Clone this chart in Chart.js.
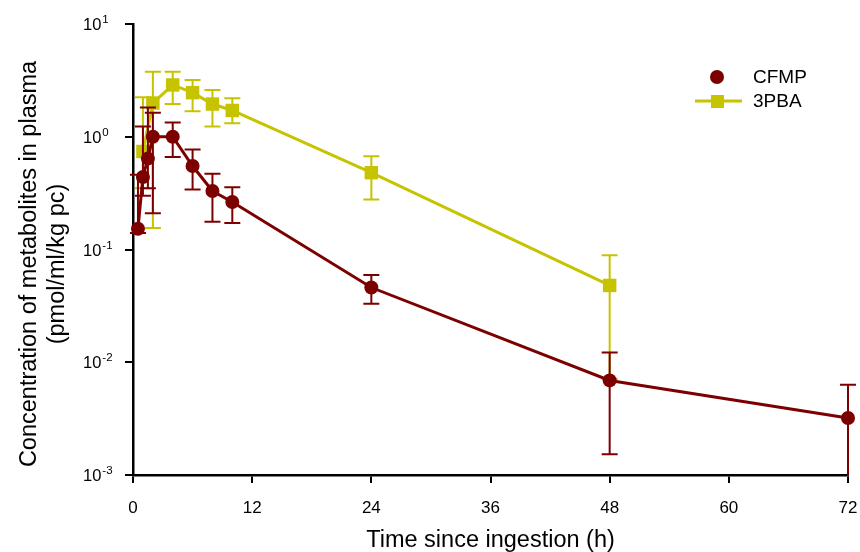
<!DOCTYPE html>
<html>
<head>
<meta charset="utf-8">
<script src="https://cdn.jsdelivr.net/npm/chart.js@4"></script>
<style>
  html, body { margin:0; padding:0; background:#fff; }
  #wrap { width:860px; height:552px; position:relative; }
</style>
</head>
<body>
<div id="wrap"><canvas id="pkChart" width="860" height="552"></canvas></div>
<script>
// plasma kinetics, CFMP vs 3PBA (log scale)
var FONT = '"Liberation Sans", Arial, sans-serif';
var RED = '#7c0000';
var YEL = '#c6c300';

var cfmpTime  = [0.5, 1, 1.5, 2, 4, 6, 8, 10, 24, 48, 72];
var cfmpMean  = [0.153, 0.44, 0.64, 1.0, 1.0, 0.55, 0.33, 0.264, 0.046, 0.0069, 0.0032];
var cfmpUpper = [0.46, 1.23, 1.82, 1.63, 1.34, 0.77, 0.47, 0.356, 0.0593, 0.0122, 0.0063];
var cfmpLower = [0.14, 0.30, 0.35, 0.21, 0.66, 0.34, 0.176, 0.172, 0.0331, 0.00153, 0.0005];

var pbaTime  = [1, 2, 4, 6, 8, 10, 24, 48];
var pbaMean  = [0.74, 1.99, 2.88, 2.46, 1.95, 1.71, 0.48, 0.048];
var pbaUpper = [2.24, 3.78, 3.78, 3.19, 2.6, 2.2, 0.67, 0.089];
var pbaLower = [0.35, 0.155, 1.95, 1.68, 1.23, 1.32, 0.277, 0.0071];

var xTicks = [0, 12, 24, 36, 48, 60, 72];
var yTicks = [0.001, 0.01, 0.1, 1, 10];
var yTickExp = ['-3', '-2', '-1', '0', '1'];
var yTitle = ['Concentration of metabolites in plasma', '(pmol/ml/kg pc)'];

function pts(xs, ys) {
  return xs.map(function(x, i){ return {x:x, y:ys[i]}; });
}

var errBars = {
  id:'errBars',
  beforeDatasetDraw: function(chart, args) {
    var ds = chart.data.datasets[args.index];
    if (!ds.errUp) return;
    var xs = chart.scales.x, ys = chart.scales.y, a = chart.chartArea;
    var ctx = chart.ctx;
    ctx.save();
    ctx.beginPath();
    ctx.rect(a.left - 10, a.top, a.right - a.left + 20, a.bottom - a.top + 1);
    ctx.clip();
    ctx.strokeStyle = ds.borderColor;
    ctx.lineWidth = 2;
    ds.data.forEach(function(p, i) {
      var px = xs.getPixelForValue(p.x);
      var pu = ys.getPixelForValue(ds.errUp[i]);
      var pl = ys.getPixelForValue(ds.errLo[i]);
      ctx.beginPath();
      ctx.moveTo(px, pu); ctx.lineTo(px, pl);
      ctx.moveTo(px - 8, pu); ctx.lineTo(px + 8, pu);
      ctx.moveTo(px - 8, pl); ctx.lineTo(px + 8, pl);
      ctx.stroke();
    });
    ctx.restore();
  }
};

// y tick labels as 10 with a raised exponent, plus the two-line y title
var yLabels = {
  id:'yLabels',
  afterDraw: function(chart) {
    var ys = chart.scales.y, ctx = chart.ctx;
    ctx.save();
    ctx.fillStyle = '#000';
    ctx.textBaseline = 'alphabetic';
    ctx.textAlign = 'left';
    yTicks.forEach(function(v, i) {
      var py = ys.getPixelForValue(v);
      ctx.font = '16.5px ' + FONT;
      ctx.fillText('10', 83, py + 6);
      var w = ctx.measureText('10').width;
      ctx.font = '11.5px ' + FONT;
      ctx.fillText(yTickExp[i], 83 + w + 1, py - 1);
    });
    ctx.translate(0, 264);
    ctx.rotate(-Math.PI / 2);
    ctx.textAlign = 'center';
    ctx.textBaseline = 'middle';
    ctx.font = '23.5px ' + FONT;
    ctx.fillText(yTitle[0], 0, 30);
    ctx.fillText(yTitle[1], 0, 58);
    ctx.restore();
  }
};

var legendBox = {
  id:'legendBox',
  afterDraw: function(chart) {
    var ctx = chart.ctx;
    ctx.save();
    ctx.fillStyle = RED;
    ctx.beginPath(); ctx.arc(717, 77, 7, 0, Math.PI*2); ctx.fill();
    ctx.strokeStyle = YEL; ctx.lineWidth = 3;
    ctx.beginPath(); ctx.moveTo(695, 101); ctx.lineTo(742, 101); ctx.stroke();
    ctx.fillStyle = YEL;
    ctx.fillRect(711, 95, 13, 13);
    ctx.fillStyle = '#000';
    ctx.font = '19px ' + FONT;
    ctx.textBaseline = 'middle';
    ctx.fillText('CFMP', 753, 78);
    ctx.fillText('3PBA', 753, 102);
    ctx.restore();
  }
};

new Chart(document.getElementById('pkChart'), {
  type:'line',
  data:{datasets:[
    {label:'CFMP', data:pts(cfmpTime, cfmpMean), errUp:cfmpUpper, errLo:cfmpLower,
     borderColor:RED, backgroundColor:RED, borderWidth:3, pointStyle:'circle', pointRadius:7, pointBorderWidth:0, tension:0, clip:12},
    {label:'3PBA', data:pts(pbaTime, pbaMean), errUp:pbaUpper, errLo:pbaLower,
     borderColor:YEL, backgroundColor:YEL, borderWidth:3, pointStyle:'rect', pointRadius:9.5, pointBorderWidth:0, tension:0, clip:12}
  ]},
  options:{
    responsive:false, animation:false, devicePixelRatio:1,
    layout:{padding:{top:24, right:0, left:0, bottom:0}},
    plugins:{legend:{display:false}, tooltip:{enabled:false}},
    scales:{
      x:{type:'linear', min:0, max:72,
        afterBuildTicks:function(s){ s.ticks = xTicks.map(function(v){return {value:v};}); },
        afterFit:function(s){ s.height = 77; s.paddingLeft = 0; s.paddingRight = 12; },
        grid:{drawOnChartArea:false, drawTicks:true, tickLength:8, color:'#000', lineWidth:2},
        border:{display:true, color:'#000', width:2.5},
        ticks:{color:'#000', font:{family:FONT, size:17}, padding:15, maxRotation:0},
        title:{display:true, text:'Time since ingestion (h)', color:'#000', font:{family:FONT, size:23.5, lineHeight:1}, padding:{top:0, bottom:0}}
      },
      y:{type:'logarithmic', min:0.001, max:10,
        afterBuildTicks:function(s){ s.ticks = yTicks.map(function(v){return {value:v};}); },
        afterFit:function(s){ s.width = 133; },
        grid:{drawOnChartArea:false, drawTicks:true, tickLength:8, color:'#000', lineWidth:2},
        border:{display:true, color:'#000', width:2.5},
        ticks:{display:false}
      }
    }
  },
  plugins:[errBars, yLabels, legendBox]
});
</script>
</body>
</html>
